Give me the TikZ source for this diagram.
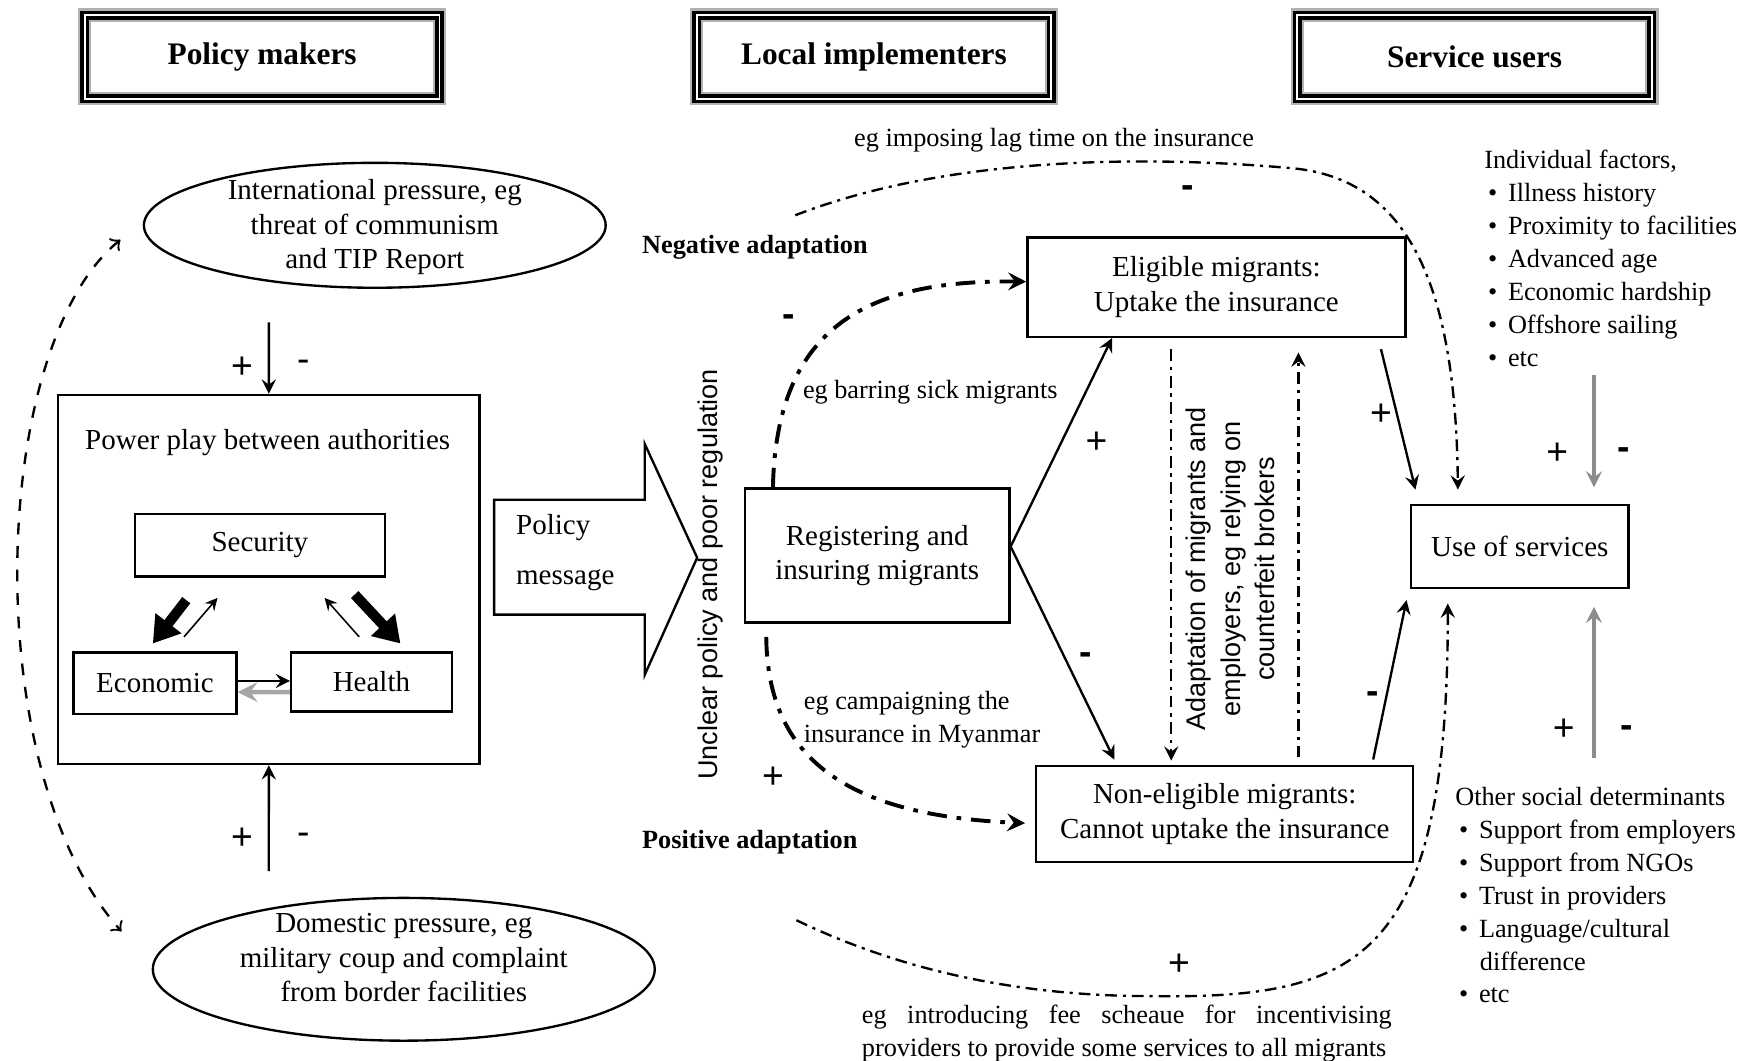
\documentclass[tikz,border=0pt]{standalone}
\usepackage{fontspec}
\setmainfont{Liberation Serif}
\setsansfont{Liberation Sans}
\usepackage{tikz}
\usetikzlibrary{shapes.geometric, arrows, arrows.meta, positioning}
\newcommand{\itembul}{\hspace*{0.35mm}\textbullet\hspace{0.95mm}}
\newcommand{\hangbul}{\hspace*{2.2mm}}
\tikzstyle{header} = [rectangle, minimum width=3.18cm, minimum height=0.75cm, text centered, draw=black, line width=0.9pt, double=white, double distance=0.5pt, preaction={draw=gray!60, line width=3.4pt}, font=\fontsize{8}{9.5}\selectfont\bfseries]
\tikzstyle{box} = [rectangle, draw, semithick, align=center]
\tikzstyle{pressure} = [ellipse, draw, semithick]
\tikzstyle{note} = [align=left, font=\fontsize{6.7}{8.4}\selectfont]
\tikzstyle{vnote} = [rotate=90, align=center, font=\sffamily\fontsize{6.9}{8.8}\selectfont]
\tikzstyle{sign} = [font=\sffamily\fontsize{9.5}{10}\selectfont]
\tikzstyle{arrow} = [semithick,->,>=stealth]
\tikzstyle{bigarrow} = [line width=2.6pt,-{Triangle[length=2.3mm,width=2.8mm]}]
\tikzstyle{factor} = [thick,->,>=stealth,draw=black!45]
\tikzstyle{feedback} = [semithick,dashed,<->,>=to]
\tikzstyle{adapt} = [semithick,dash pattern=on 3pt off 1.5pt on 0.8pt off 1.5pt,->,>=stealth]
\tikzstyle{boldadapt} = [line width=1pt,dash pattern=on 5pt off 2.5pt on 1.2pt off 2.5pt,->,>=stealth]

\begin{document}
\begin{tikzpicture}[every node/.style={font=\fontsize{7.4}{8.8}\selectfont, inner sep=0pt}]
\useasboundingbox (0,0) rectangle (15.68,9.51);

% Headers
\node (makers) [header] at (2.35,9.0) {Policy makers};
\node (implementers) [header] at (7.835,9.0) {Local implementers};
\node (users) [header] at (13.22,9.0) {Service users};

% Policy makers
\node (intl) [pressure, minimum width=4.14cm, minimum height=1.12cm] at (3.36,7.49) {};
\node (intltext) [align=center] at (3.36,7.47) {International pressure, eg\\threat of communism\\and TIP Report};
\node (power) [box, minimum width=3.78cm, minimum height=3.31cm] at (2.41,4.315) {};
\node (powertitle) at (2.40,5.54) {Power play between authorities};
\node (security) [box, minimum width=2.24cm, minimum height=0.56cm] at (2.33,4.62) {Security};
\node (economic) [box, minimum width=1.46cm, minimum height=0.55cm] at (1.39,3.385) {Economic};
\node (health) [box, minimum width=1.44cm, minimum height=0.53cm] at (3.33,3.395) {Health};
\node (domestic) [pressure, minimum width=4.5cm, minimum height=1.28cm] at (3.62,0.82) {};
\node (domestictext) [align=center] at (3.62,0.925) {Domestic pressure, eg\\military coup and complaint\\from border facilities};

\draw [arrow] ([xshift=-0.95cm,yshift=-0.30cm]intl.south) -- (power.north);
\draw [arrow] ([xshift=-1.21cm,yshift=0.23cm]domestic.north) -- (power.south);
\node (intlplus) [sign] at (2.17,6.21) {+};
\node (intlminus) [sign] at (2.72,6.23) {-};
\node (domplus) [sign] at (2.17,1.99) {+};
\node (domminus) [sign] at (2.72,1.99) {-};
\draw [feedback] ([xshift=-0.2cm,yshift=-0.13cm]intl.west) .. controls (-0.1,6.4) and (-0.2,2.6) .. ([xshift=-0.27cm,yshift=0.34cm]domestic.west);

% Inside the power play
\draw [bigarrow] ([xshift=-0.66cm,yshift=-0.20cm]security.south) -- ([xshift=-0.02cm,yshift=0.07cm]economic.north);
\draw [arrow, thin] ([xshift=0.26cm,yshift=0.13cm]economic.north) -- ([xshift=-0.38cm,yshift=-0.18cm]security.south);
\draw [arrow, thin] ([xshift=-0.11cm,yshift=0.13cm]health.north) -- ([xshift=0.58cm,yshift=-0.18cm]security.south);
\draw [bigarrow] ([xshift=0.85cm,yshift=-0.15cm]security.south) -- ([xshift=0.26cm,yshift=0.07cm]health.north);
\draw [arrow] ([yshift=0.02cm]economic.east) -- ([yshift=0.01cm]health.west);
\draw [arrow, draw=gray!70, line width=1.2pt] ([yshift=-0.09cm]health.west) -- ([yshift=-0.08cm]economic.east);

% Policy message
\draw [semithick] (4.43,5.03) -- (5.78,5.03) -- (5.78,5.53) -- (6.25,4.51) -- (5.78,3.46) -- (5.78,4.00) -- (4.43,4.00) -- cycle;
\node (message) [anchor=west, align=left, font=\fontsize{7.4}{12.8}\selectfont] at (4.62,4.555) {Policy\\message};
\node (unclear) [vnote] at (6.37,4.36) {Unclear policy and poor regulation};

% Local implementers
\node (register) [box, minimum width=2.37cm, minimum height=1.20cm] at (7.865,4.53) {Registering and\\insuring migrants};
\node (eligible) [box, minimum width=3.39cm, minimum height=0.89cm] at (10.905,6.935) {Eligible migrants:\\Uptake the insurance};
\node (noneligible) [box, minimum width=3.38cm, minimum height=0.86cm] at (10.98,2.21) {Non-eligible migrants:\\Cannot uptake the insurance};
\node (use) [box, minimum width=1.95cm, minimum height=0.74cm] at (13.625,4.61) {Use of services};

\draw [arrow] ([yshift=0.08cm]register.east) -- ([xshift=0.77cm]eligible.south west);
\draw [arrow] ([yshift=0.08cm]register.east) -- ([xshift=0.71cm,yshift=0.05cm]noneligible.north west);
\node (regplus) [sign] at (9.83,5.54) {+};
\node (regminus) [sign] at (9.73,3.61) {\textbf{-}};

\draw [adapt] ([xshift=-0.405cm,yshift=-0.1cm]eligible.south) -- ([xshift=-0.405cm,yshift=0.04cm]eligible.south |- noneligible.north);
\draw [adapt] ([xshift=0.735cm,yshift=0.07cm]eligible.south |- noneligible.north) -- ([xshift=0.735cm,yshift=-0.13cm]eligible.south);
\node (adapttext) [vnote] at (11.03,4.41) {Adaptation of migrants and\\employers, eg relying on\\counterfeit brokers};

\draw [arrow] ([xshift=-0.23cm,yshift=-0.1cm]eligible.south east) -- ([xshift=0.05cm,yshift=0.13cm]use.north west);
\draw [arrow] ([xshift=-0.37cm,yshift=0.05cm]noneligible.north east) -- ([xshift=-0.03cm,yshift=-0.10cm]use.south west);
\node (eligplus) [sign] at (12.38,5.79) {+};
\node (nonminus) [sign] at (12.31,3.26) {\textbf{-}};

% Adaptation
\node (negative) [anchor=west, font=\fontsize{6.7}{8}\selectfont\bfseries] at (5.75,7.29) {Negative adaptation};
\node (positive) [anchor=west, font=\fontsize{6.7}{8}\selectfont\bfseries] at (5.75,1.96) {Positive adaptation};

\coordinate (negstart) at (7.13,7.58);
\draw [adapt] (negstart) .. controls (8.6,8.15) and (10.5,8.1) .. (11.6,8.0) .. controls (12.6,7.9) and (13.05,7.0) .. ([xshift=-0.555cm,yshift=0.13cm]use.north);
\node (lagtext) [note] at (9.45,8.25) {eg imposing lag time on the insurance};
\node (lagsign) [sign] at (10.65,7.79) {\textbf{-}};

\draw [boldadapt] ([xshift=0.26cm]register.north west) .. controls (6.96,6.6) and (7.8,7.0) .. ([yshift=0.05cm]eligible.west);
\node (barsign) [sign] at (7.07,6.64) {\textbf{-}};
\node (bartext) [note] at (8.34,5.99) {eg barring sick migrants};

\draw [boldadapt] ([xshift=0.20cm,yshift=-0.12cm]register.south west) .. controls (6.88,2.7) and (7.6,2.2) .. ([xshift=-0.09cm,yshift=-0.08cm]noneligible.west);
\node (campsign) [sign] at (6.93,2.54) {+};
\node (camptext) [note, anchor=west] at (7.20,3.055) {eg campaigning the\\insurance in Myanmar};

\coordinate (posstart) at (7.14,1.26);
\draw [adapt] (posstart) .. controls (8.2,0.75) and (9.3,0.58) .. (10.3,0.58) .. controls (12.2,0.55) and (12.98,0.9) .. ([xshift=-0.645cm,yshift=-0.13cm]use.south);
\node (feesign) [sign] at (10.57,0.86) {+};
\node (feetext) [note, anchor=north west] at (7.72,0.51) {\makebox[4.75cm][s]{eg introducing fee scheaue for incentivising}\\providers to provide some services to all migrants};

% Service users
\node (individual) [note, anchor=north west] at (13.30,8.17) {Individual factors,\\\itembul Illness history\\\itembul Proximity to facilities\\\itembul Advanced age\\\itembul Economic hardship\\\itembul Offshore sailing\\\itembul etc};
\node (social) [note, anchor=north west] at (13.04,2.46) {Other social determinants\\\itembul Support from employers\\\itembul Support from NGOs\\\itembul Trust in providers\\\itembul Language/cultural\\\hangbul difference\\\itembul etc};

\draw [factor] ([xshift=-0.32cm,yshift=-0.07cm]use.north east |- individual.south) -- ([xshift=-0.32cm,yshift=0.15cm]use.north east);
\draw [factor] ([xshift=-0.32cm,yshift=0.25cm]use.south east |- social.north) -- ([xshift=-0.32cm,yshift=-0.16cm]use.south east);
\node (indplus) [sign] at (13.96,5.44) {+};
\node (indminus) [sign] at (14.56,5.44) {\textbf{-}};
\node (socplus) [sign] at (14.02,2.97) {+};
\node (socminus) [sign] at (14.58,2.95) {\textbf{-}};

\end{tikzpicture}
\end{document}
